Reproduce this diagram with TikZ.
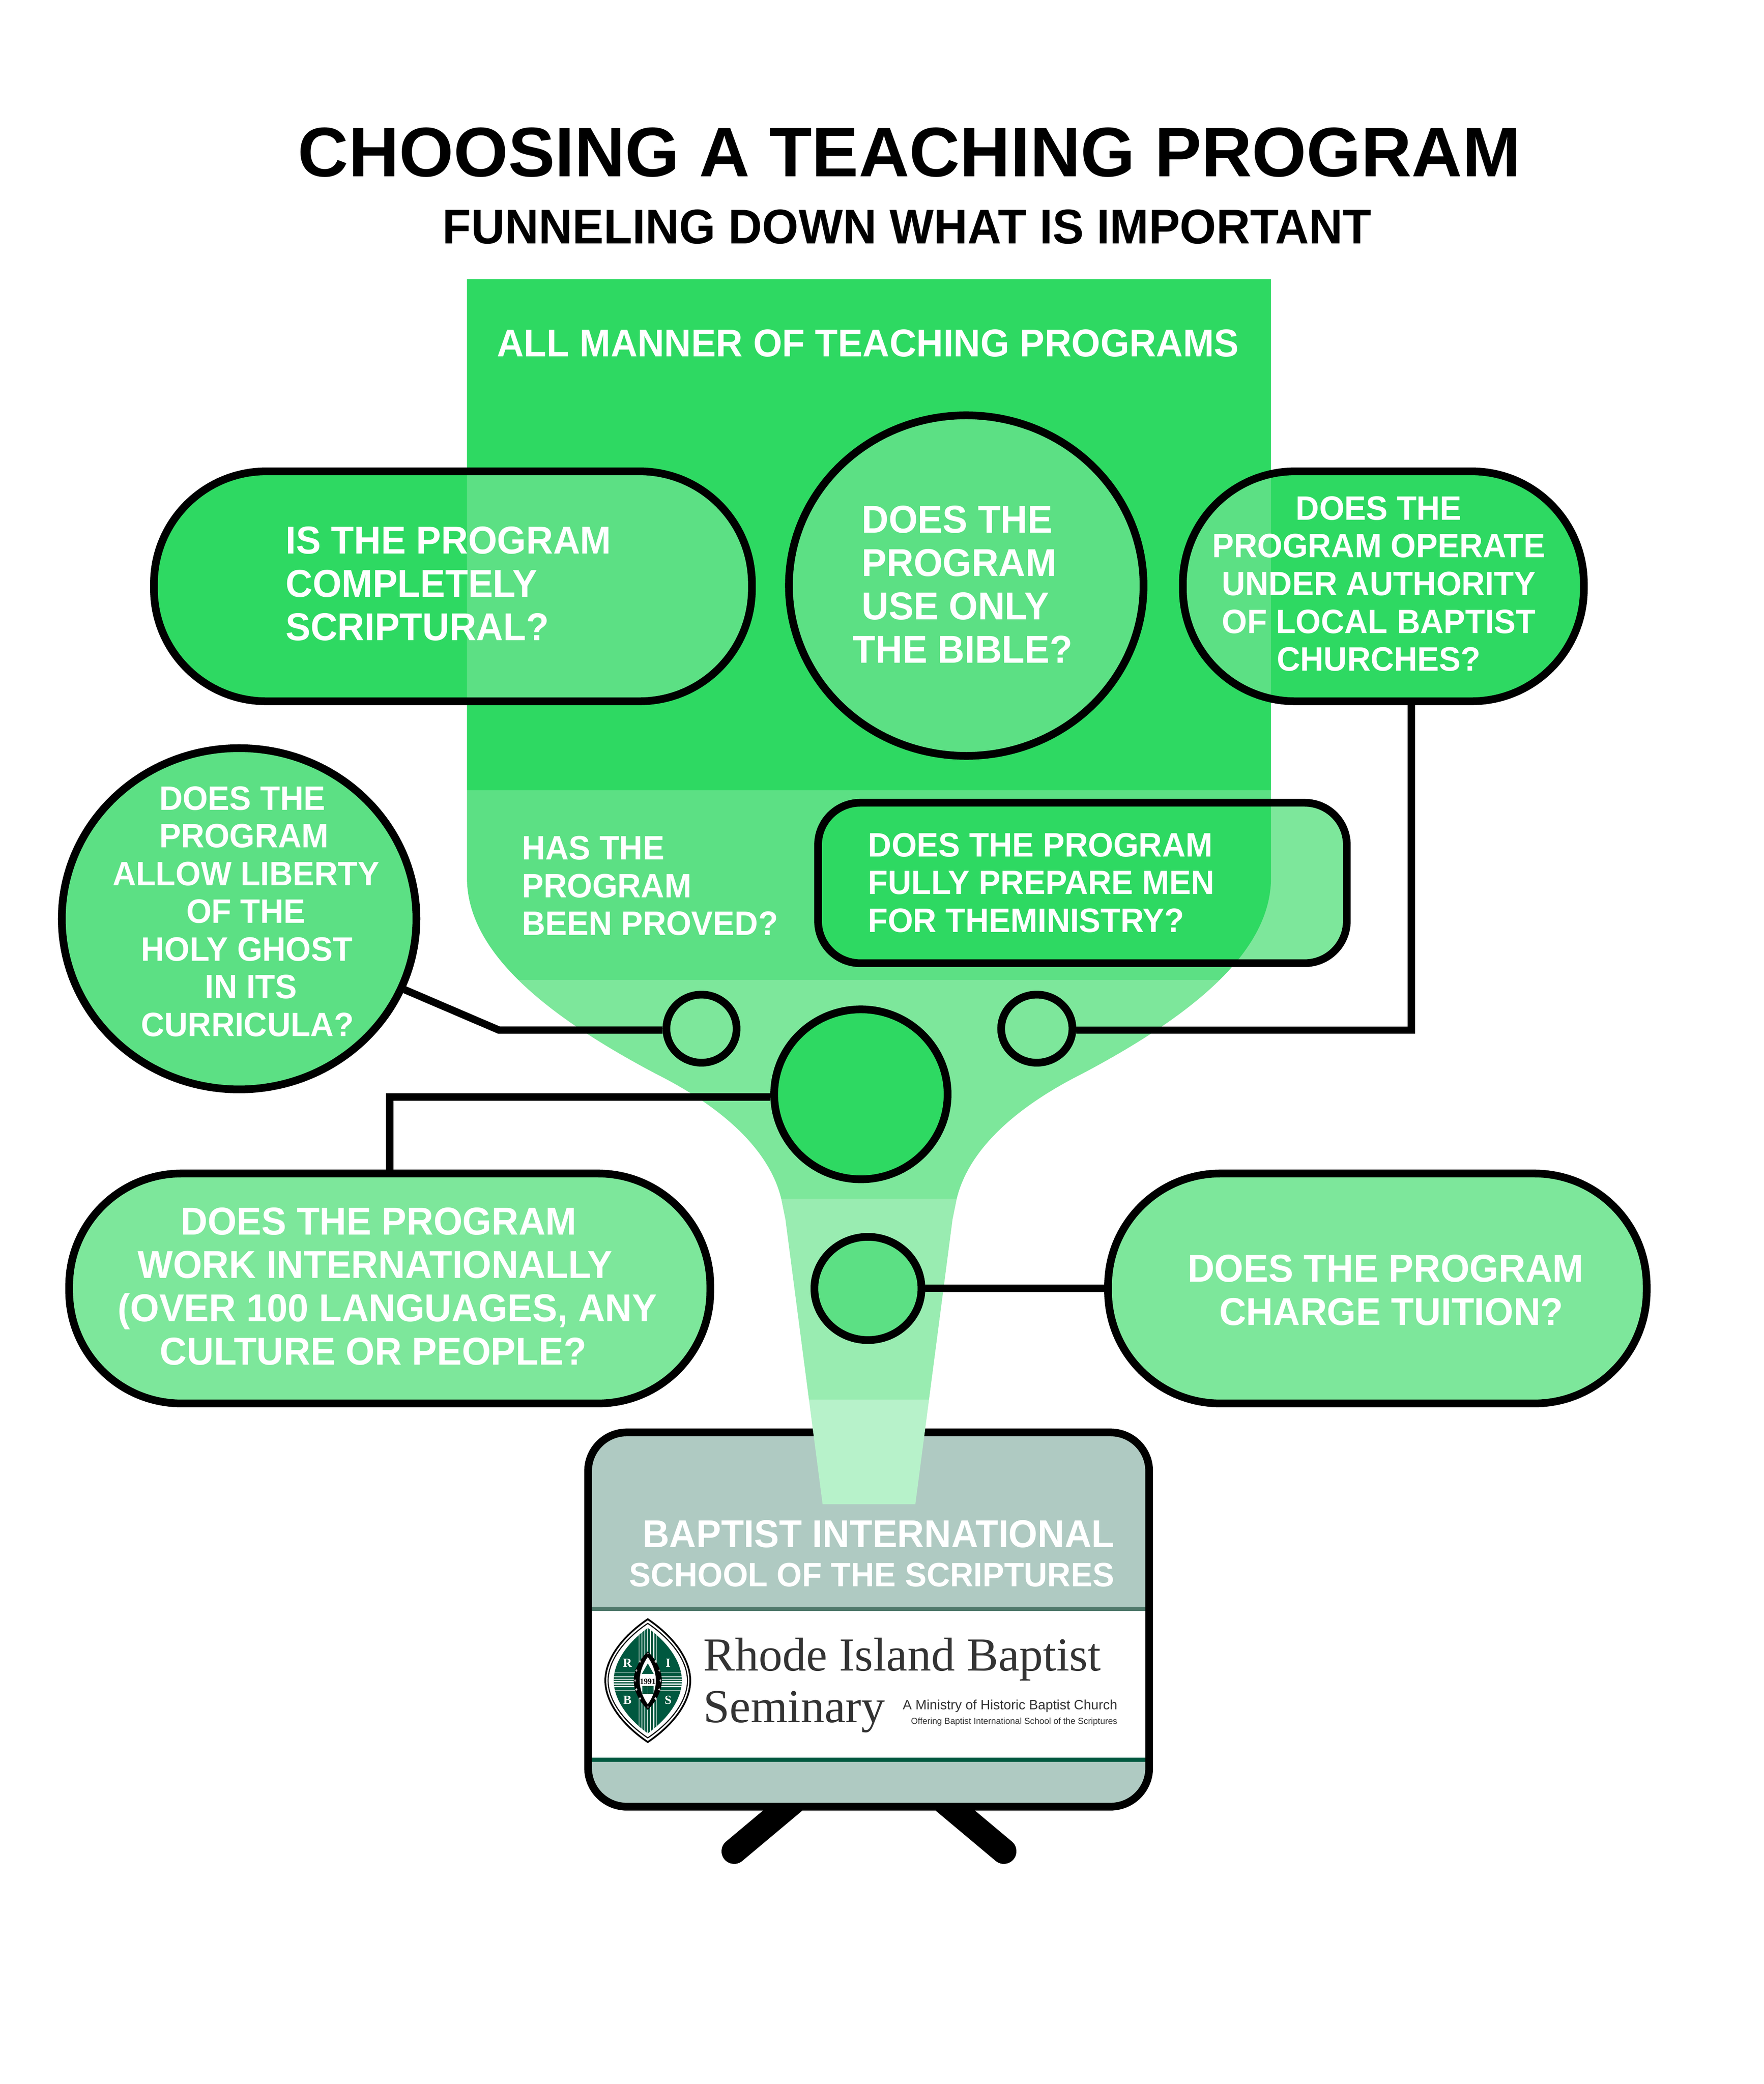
\documentclass[tikz,border=0pt]{standalone}
\usepackage{fontspec}
\setmainfont{Liberation Sans}
\newfontfamily\logoserif{Liberation Serif}
\newfontfamily\narrowsans[FakeStretch=.96]{Liberation Sans}
\usetikzlibrary{shapes.geometric}
\definecolor{greenA}{HTML}{2ED962}
\definecolor{greenB}{HTML}{5CE084}
\definecolor{greenC}{HTML}{7DE79B}
\definecolor{greenD}{HTML}{99ECB1}
\definecolor{greenE}{HTML}{B7F2CA}
\definecolor{panelgray}{HTML}{AFCAC2}
\definecolor{ruleA}{HTML}{507A6C}
\definecolor{ruleB}{HTML}{00583F}
\definecolor{logotext}{HTML}{333333}
\newcommand{\funnelpath}{(13.30,7.95) -- (36.20,7.95) -- (36.20,25.00) .. controls (36.20,27.00) and (34.20,28.80) .. (30.81,30.59) .. controls (29.00,31.50) and (27.60,32.70) .. (27.25,34.14) -- (27.13,34.73) -- (26.07,42.85) -- (23.43,42.85) -- (22.37,34.73) -- (22.25,34.14) .. controls (21.90,32.70) and (20.50,31.50) .. (18.69,30.59) .. controls (15.30,28.80) and (13.30,27.00) .. (13.30,25.00) -- cycle}
\newcommand{\vesica}[2]{(0,-#2) .. controls ({.6*#1},{-.72*#2}) and (#1,{-.35*#2}) .. (#1,0) .. controls (#1,{.35*#2}) and ({.6*#1},{.72*#2}) .. (0,#2) .. controls ({-.6*#1},{.72*#2}) and (-#1,{.35*#2}) .. (-#1,0) .. controls (-#1,{-.35*#2}) and ({-.6*#1},{-.72*#2}) .. cycle}
\begin{document}
\begin{tikzpicture}[x=1cm,y=-1cm,
	qbox/.style={rectangle,inner sep=0pt,outer sep=0pt},
	qoval/.style={ellipse,draw=black,line width=.22cm,inner sep=0pt},
	qline/.style={draw=black,line width=.21cm,line join=miter},
	bigtext/.style={text=white,inner sep=0pt,anchor=base west,align=left,font=\narrowsans\bfseries\fontsize{31.5}{35.1}\selectfont},
	midtext/.style={text=white,inner sep=0pt,anchor=base west,align=left,font=\narrowsans\bfseries\fontsize{27.4}{30.6}\selectfont}]
	\useasboundingbox (0,0) rectangle (50.24,59.36);
	\node[inner sep=0pt,anchor=base west,font=\bfseries\fontsize{56.8}{60}\selectfont] (title) at (8.48,5.03) {CHOOSING A TEACHING PROGRAM};
	\node[inner sep=0pt,anchor=base west,font=\narrowsans\bfseries\fontsize{39.5}{42}\selectfont] (subtitle) at (12.60,6.94) {FUNNELING DOWN WHAT IS IMPORTANT};
	% stand and panel
	\coordinate (legla) at (23.57,50.50);
	\coordinate (leglb) at (20.91,52.73);
	\coordinate (legra) at (25.93,50.50);
	\coordinate (legrb) at (28.59,52.73);
	\draw[line width=.72cm,line cap=round] (legla) -- (leglb);
	\draw[line width=.72cm,line cap=round] (legra) -- (legrb);
	\node[qbox,fill=panelgray,minimum width=15.98cm,minimum height=10.66cm,rounded corners=1.1cm] (panel) at (24.74,46.13) {};
	\fill[white] (16.75,45.80) rectangle (32.73,50.12);
	\fill[ruleA] (16.75,45.77) rectangle (32.73,45.88);
	\fill[ruleB] (16.75,50.06) rectangle (32.73,50.18);
	\node[qbox,draw=black,line width=.22cm,minimum width=15.98cm,minimum height=10.66cm,rounded corners=1.1cm] at (24.74,46.13) {};
	% funnel
	\begin{scope}
		\clip \funnelpath;
		\foreach \ya/\yb/\col in {7.95/22.51/greenA,22.51/27.91/greenB,27.91/34.14/greenC,34.14/39.87/greenD,39.87/42.85/greenE}
			\fill[\col] (10,\ya) rectangle (40,\yb);
	\end{scope}
	% boxes that cross the funnel edge
	\foreach \nm/\cx/\cy/\bw/\bh/\brad/\outc/\innc in {prog/12.90/16.70/17.03/6.55/3.2/greenA/greenB,auth/39.40/16.70/11.42/6.55/3.2/greenA/greenB,prep/30.83/25.15/15.06/4.57/1.2/greenC/greenA}{
		\node[qbox,fill=\outc,minimum width=\bw cm,minimum height=\bh cm,rounded corners=\brad cm] at (\cx,\cy) {};
		\begin{scope}
			\clip \funnelpath;
			\node[qbox,fill=\innc,minimum width=\bw cm,minimum height=\bh cm,rounded corners=\brad cm] at (\cx,\cy) {};
		\end{scope}
		\node[qbox,draw=black,line width=.22cm,minimum width=\bw cm,minimum height=\bh cm,rounded corners=\brad cm] (\nm) at (\cx,\cy) {};
	}
	% the other shapes
	\node[qoval,fill=greenB,minimum width=10.10cm,minimum height=9.70cm] (bible) at (27.52,16.68) {};
	\node[qoval,fill=greenB,minimum width=10.10cm,minimum height=9.72cm] (liberty) at (6.81,26.17) {};
	\node[qoval,fill=greenC,minimum width=2.00cm,minimum height=1.94cm] (dotl) at (19.98,29.30) {};
	\node[qoval,fill=greenC,minimum width=2.03cm,minimum height=1.94cm] (dotr) at (29.53,29.30) {};
	\node[qoval,fill=greenA,minimum width=4.94cm,minimum height=4.84cm] (hub) at (24.52,31.17) {};
	\node[qoval,fill=greenB,minimum width=3.05cm,minimum height=2.94cm] (dotc) at (24.72,36.70) {};
	\node[qbox,draw=black,line width=.22cm,fill=greenC,minimum width=18.26cm,minimum height=6.55cm,rounded corners=3.2cm] (work) at (11.10,36.70) {};
	\node[qbox,draw=black,line width=.22cm,fill=greenC,minimum width=15.34cm,minimum height=6.55cm,rounded corners=3.2cm] (tuition) at (39.23,36.70) {};
	% connectors
	\coordinate (bendl) at (14.21,29.34);
	\coordinate (bendr) at (40.20,29.34);
	\coordinate (bendh) at (11.10,31.25);
	\draw[qline] (liberty) -- (bendl) -- (dotl.west |- bendl);
	\draw[qline] (dotr.east |- bendr) -- (bendr) -- (bendr |- auth.south);
	\draw[qline] (hub.west |- bendh) -- (bendh) -- (work.north);
	\draw[qline] (dotc.east) -- (tuition.west);
	% question texts
	\node[text=white,inner sep=0pt,anchor=base west,font=\narrowsans\bfseries\fontsize{31.4}{33}\selectfont] (alltext) at (14.15,10.16) {ALL MANNER OF TEACHING PROGRAMS};
	\node[bigtext] (progtext) at (8.13,18.24) {IS THE PROGRAM\\COMPLETELY\\SCRIPTURAL?};
	\node[bigtext] (bibletext) at (24.28,18.88) {\hspace*{.26cm}DOES THE\\\hspace*{.26cm}PROGRAM\\\hspace*{.26cm}USE ONLY\\THE BIBLE?};
	\node[midtext,align=center,anchor=base] (authtext) at (39.27,19.11) {DOES THE\\PROGRAM OPERATE\\UNDER AUTHORITY\\OF LOCAL BAPTIST\\CHURCHES?};
	\node[midtext] (preptext) at (24.72,26.55) {DOES THE PROGRAM\\FULLY PREPARE MEN\\FOR THEMINISTRY?};
	\node[midtext] (provedtext) at (14.86,26.64) {HAS THE\\PROGRAM\\BEEN PROVED?};
	\node[midtext] (libertytext) at (3.20,29.52) {\hspace*{1.33cm}DOES THE\\\hspace*{1.33cm}PROGRAM\\ALLOW LIBERTY\\\hspace*{2.10cm}OF THE\\\hspace*{.81cm}HOLY GHOST\\\hspace*{2.63cm}IN ITS\\\hspace*{.81cm}CURRICULA?};
	\node[bigtext] (worktext) at (3.35,38.87) {\hspace*{1.79cm}DOES THE PROGRAM\\\hspace*{.57cm}WORK INTERNATIONALLY\\(OVER 100 LANGUAGES, ANY\\\hspace*{1.20cm}CULTURE OR PEOPLE?};
	\node[bigtext] (tuitiontext) at (33.82,37.75) {DOES THE PROGRAM\\\hspace*{.90cm}CHARGE TUITION?};
	% panel texts
	\node[bigtext] (schoola) at (18.29,44.07) {BAPTIST INTERNATIONAL};
	\node[midtext] (schoolb) at (17.91,45.19) {SCHOOL OF THE SCRIPTURES};
	\node[inner sep=0pt,anchor=base west,text=logotext,font=\logoserif\fontsize{38.4}{40}\selectfont] (rhode) at (20.03,47.59) {Rhode Island Baptist};
	\node[inner sep=0pt,anchor=base west,text=logotext,font=\logoserif\fontsize{38.4}{40}\selectfont] (seminary) at (20.03,49.06) {Seminary};
	\node[inner sep=0pt,anchor=base east,text=logotext,font=\fontsize{10.9}{13}\selectfont] (ministry) at (31.83,48.69) {A Ministry of Historic Baptist Church};
	\node[inner sep=0pt,anchor=base east,text=logotext,font=\fontsize{7.1}{9}\selectfont] (offering) at (31.83,49.11) {Offering Baptist International School of the Scriptures};
	% seal
	\begin{scope}[shift={(18.45,47.87)}]
		\draw[line width=.05cm,fill=white] \vesica{1.21}{1.75};
		\draw[line width=.03cm] \vesica{1.13}{1.63};
		\fill[ruleB] \vesica{.97}{1.50};
		\begin{scope}
			\clip \vesica{.97}{1.50};
			\foreach \off in {-.14,-.07,0,.07,.14}{
				\draw[white,line width=.03cm] (-1,\off+.03) -- (1,\off+.03);
				\draw[white,line width=.03cm] (\off*1.2,-1.6) -- (\off*1.2,1.6);
			}
			\foreach \qx/\qy in {-1.2/-1.7,.25/-1.7,-1.2/.28,.25/.28}
				\draw[white,line width=.012cm,rounded corners=.12cm] (\qx,\qy) rectangle ++(.95,1.46);
		\end{scope}
		\fill[black] \vesica{.40}{.83};
		\fill[white] \vesica{.23}{.67};
		\foreach \dx/\dy in {0/-.77,-.22/-.55,.22/-.55,-.33/-.29,.33/-.29,-.36/0,.36/0,-.33/.25,.33/.25,-.22/.51,.22/.51,0/.75}{
			\draw[white,line width=.012cm] (\dx-.03,\dy) -- (\dx+.03,\dy);
			\draw[white,line width=.012cm] (\dx,\dy-.04) -- (\dx,\dy+.04);
		}
		\fill[ruleB] (0,-.49) -- (.17,-.19) -- (-.17,-.19) -- cycle;
		\fill[ruleB] (-.16,.15) rectangle (.16,.38);
		\draw[white,line width=.012cm] (0,.15) -- (0,.38);
		\node[inner sep=0pt,font=\logoserif\bfseries\fontsize{6.4}{7}\selectfont] (sealyear) at (0,.03) {1991};
		\node[inner sep=0pt,text=white,font=\logoserif\bfseries\fontsize{10}{10}\selectfont] (sealr) at (-.58,-.50) {R};
		\node[inner sep=0pt,text=white,font=\logoserif\bfseries\fontsize{10}{10}\selectfont] (seali) at (.58,-.50) {I};
		\node[inner sep=0pt,text=white,font=\logoserif\bfseries\fontsize{10}{10}\selectfont] (sealb) at (-.58,.55) {B};
		\node[inner sep=0pt,text=white,font=\logoserif\bfseries\fontsize{10}{10}\selectfont] (seals) at (.58,.55) {S};
	\end{scope}
\end{tikzpicture}
\end{document}
